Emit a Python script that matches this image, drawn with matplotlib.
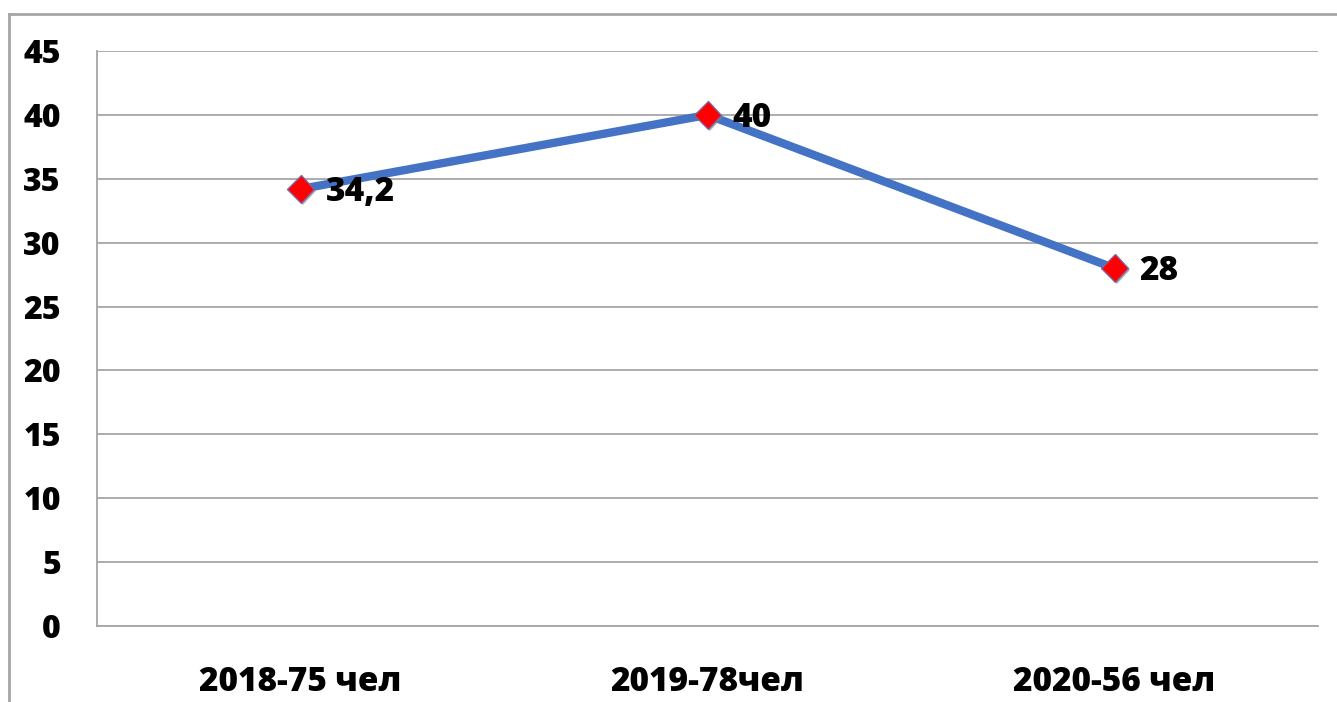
import matplotlib.pyplot as plt
import matplotlib.patheffects as pe
from matplotlib.lines import Line2D

categories = ['2018-75 чел', '2019-78чел', '2020-56 чел']
values = [34.2, 40, 28]
value_labels = ['34,2', '40', '28']
y_ticks = [0, 5, 10, 15, 20, 25, 30, 35, 40, 45]

plt.rcParams['font.family'] = ['Open Sans', 'DejaVu Sans']

fig = plt.figure(figsize=(13.37, 7.02), dpi=100)
ax = fig.add_axes([97 / 1337, 1 - 626 / 702, (1318 - 97) / 1337, (626 - 51) / 702])

# outer chart frame (only top and left edges are visible)
fig.add_artist(Line2D([9 / 1337, 1.0], [1 - 14 / 702, 1 - 14 / 702], color='#a6a6a6', lw=2))
fig.add_artist(Line2D([9 / 1337, 9 / 1337], [0, 1 - 14 / 702], color='#a6a6a6', lw=2))

x = list(range(len(categories)))
ax.plot(x, values, color='#4472C4', lw=6, solid_capstyle='round', zorder=3)
ax.plot(x, values, linestyle='none', marker='D', markersize=14, markerfacecolor='#ff0000',
        markeredgecolor='#8064a2', markeredgewidth=1, zorder=4,
        path_effects=[pe.SimplePatchShadow(offset=(1.5, -1.5), shadow_rgbFace='#888888', alpha=0.6), pe.Normal()])

for xi, v, lab in zip(x, values, value_labels):
    ax.annotate(lab, (xi, v), xytext=(18, -2), textcoords='offset points', ha='left', va='center',
                fontsize=24, fontweight='heavy', color='black', zorder=5)

ax.set_xlim(-0.5, 2.5)
ax.set_ylim(0, 45)
ax.set_yticks(y_ticks)
ax.set_xticks(x)
ax.set_xticklabels(categories)
ax.yaxis.grid(True, color='#a6a6a6', lw=1.3)
ax.set_axisbelow(True)
ax.tick_params(axis='both', length=0)
ax.tick_params(axis='y', pad=26, labelsize=23)
ax.tick_params(axis='x', pad=28, labelsize=24)
for lbl in ax.get_xticklabels() + ax.get_yticklabels():
    lbl.set_fontweight('heavy')
for s in ['top', 'right']:
    ax.spines[s].set_visible(False)
for s in ['left', 'bottom']:
    ax.spines[s].set_color('#a6a6a6')
    ax.spines[s].set_linewidth(1.3)

fig.savefig('out.png', dpi=100)
